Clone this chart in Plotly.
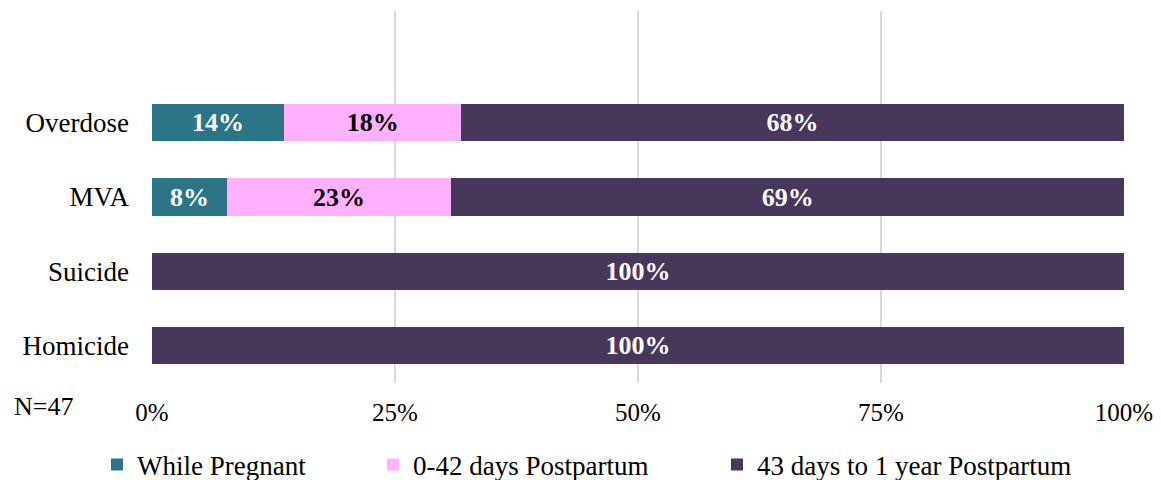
import plotly.graph_objects as go

# causas (de abajo hacia arriba en el eje)
causas = ['Homicide', 'Suicide', 'MVA', 'Overdose']
orden_y = ['Homicide', 'Suicide', 'MVA', 'Overdose', ' ']

embarazo = [0, 0, 7.7, 13.6]
posparto_42 = [0, 0, 23.1, 18.2]
posparto_ano = [100, 100, 69.2, 68.2]

etiq_embarazo = ['', '', '8%', '14%']
etiq_42 = ['', '', '23%', '18%']
etiq_ano = ['100%', '100%', '69%', '68%']

nombres = ['While Pregnant', '0-42 days Postpartum', '43 days to 1 year Postpartum']
colores = ['#2C7587', '#FFB1FE', '#47375B']
color_texto = ['white', 'black', 'white']
ticks_x = [0, 25, 50, 75, 100]
ticks_txt = ['0%', '25%', '50%', '75%', '100%']

fuente = 'Liberation Serif, Times New Roman, serif'

# la pagina deja 8 px de margen en el body
ANCHO, ALTO = 1153, 472

fig = go.Figure()
series = [embarazo, posparto_42, posparto_ano]
etiquetas = [etiq_embarazo, etiq_42, etiq_ano]
leyendas = ['legend', 'legend2', 'legend3']
for i in range(3):
    fig.add_trace(go.Bar(
        y=causas, x=series[i], orientation='h', name=nombres[i],
        marker=dict(color=colores[i], line=dict(width=0)),
        width=0.5,
        text=etiquetas[i], textposition='inside', insidetextanchor='middle',
        textangle=0, constraintext='none',
        textfont=dict(family=fuente, size=26, color=color_texto[i], weight='bold'),
        legend=leyendas[i], showlegend=True, hoverinfo='skip',
    ))

def leyenda(x):
    return dict(x=x, y=(ALTO - 457) / ALTO, xref='container', yref='container',
                xanchor='left', yanchor='middle', orientation='h',
                font=dict(family=fuente, size=27, color='black'),
                bgcolor='rgba(0,0,0,0)', borderwidth=0)

fig.update_layout(
    barmode='stack',
    showlegend=True,
    width=ANCHO, height=ALTO,
    margin=dict(l=144, r=37, t=3, b=97, autoexpand=False),
    plot_bgcolor='white', paper_bgcolor='white',
    font=dict(family=fuente, size=26, color='black'),
    xaxis=dict(range=[0, 100], tickvals=ticks_x, ticktext=ticks_txt,
               showgrid=True, gridcolor='#D9D9D9', gridwidth=2,
               zeroline=False, showline=False, ticklabelstandoff=12,
               automargin=False,
               tickfont=dict(family=fuente, size=25, color='black')),
    yaxis=dict(type='category', categoryorder='array', categoryarray=orden_y,
               range=[-0.5, 4.5], showgrid=False, zeroline=False, showline=False,
               ticklabelstandoff=22, automargin=False,
               tickfont=dict(family=fuente, size=27, color='black')),
    legend=leyenda((129 - 40) / ANCHO),
    legend2=leyenda((405 - 40) / ANCHO),
    legend3=leyenda((749 - 40) / ANCHO),
)

fig.add_annotation(text='N=47', xref='paper', yref='paper',
                   x=(12 - 152) / 972, y=(383 - 406) / 372,
                   xanchor='left', yanchor='middle', showarrow=False,
                   font=dict(family=fuente, size=26, color='black'))

fig.write_html('out.html')
